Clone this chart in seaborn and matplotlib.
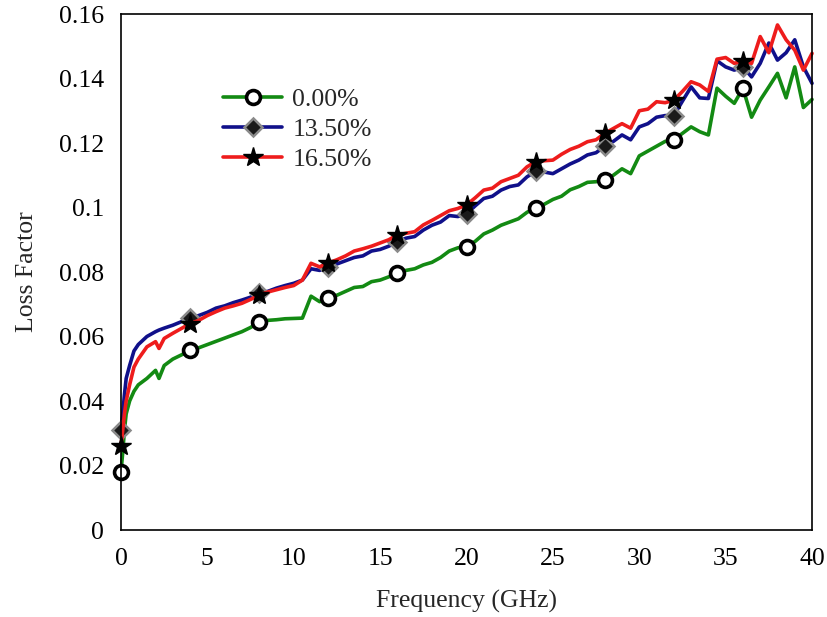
import matplotlib
matplotlib.use("Agg")
import matplotlib.pyplot as plt
import seaborn as sns
import pandas as pd

freq = [0, 0.1, 0.2, 0.3, 0.5, 0.75, 1.0, 1.5, 2.0, 2.2, 2.5, 3.0, 3.5,
        4.0, 4.5, 5.0, 5.5, 6.0, 6.5, 7.0, 7.5, 8.0, 8.5, 9.0, 9.5, 10.0, 10.5,
        11.0, 11.5, 12.0, 12.5, 13.0, 13.5, 14.0, 14.5, 15.0, 15.5, 16.0, 16.5,
        17.0, 17.5, 18.0, 18.5, 19.0, 19.5, 20.0, 20.5, 21.0, 21.5, 22.0, 22.5,
        23.0, 23.5, 24.0, 24.5, 25.0, 25.5, 26.0, 26.5, 27.0, 27.5, 28.0, 28.5,
        29.0, 29.5, 30.0, 30.5, 31.0, 31.5, 32.0, 32.5, 33.0, 33.5, 34.0, 34.5,
        35.0, 35.5, 36.0, 36.5, 37.0, 37.5, 38.0, 38.5, 39.0, 39.5, 40.0]

loss_0 = [0.018, 0.024, 0.031, 0.036, 0.040, 0.043, 0.045, 0.047, 0.0495, 0.047, 0.051, 0.053, 0.0543,
          0.0558, 0.0565, 0.0575, 0.0585, 0.0595, 0.0605, 0.0615, 0.0628, 0.0645, 0.065, 0.0652, 0.0655, 0.0656, 0.0657,
          0.0725, 0.0708, 0.072, 0.0728, 0.074, 0.0752, 0.0755, 0.077, 0.0775, 0.0785, 0.0798, 0.0805,
          0.081, 0.0822, 0.083, 0.0845, 0.0865, 0.0875, 0.0878, 0.0895, 0.0918, 0.093, 0.0945, 0.0955,
          0.0965, 0.0985, 0.100, 0.101, 0.1025, 0.1035, 0.1055, 0.1065, 0.1078, 0.108, 0.1085, 0.110,
          0.112, 0.1105, 0.116, 0.1175, 0.119, 0.1205, 0.121, 0.123, 0.125, 0.1235, 0.1225, 0.137,
          0.1345, 0.1323, 0.137, 0.128, 0.1333, 0.1374, 0.1416, 0.134, 0.1436, 0.131, 0.1335]

loss_135 = [0.031, 0.036, 0.042, 0.047, 0.051, 0.0555, 0.0575, 0.060, 0.0615, 0.062, 0.0626, 0.0635, 0.0646,
            0.0656, 0.0665, 0.0675, 0.0688, 0.0695, 0.0705, 0.0713, 0.0722, 0.0735, 0.074, 0.075, 0.0758, 0.0765, 0.0775,
            0.081, 0.0805, 0.0816, 0.0825, 0.0835, 0.0845, 0.085, 0.0865, 0.087, 0.088, 0.0894, 0.0905,
            0.091, 0.093, 0.0945, 0.0955, 0.0975, 0.0972, 0.098, 0.1005, 0.1028, 0.1035, 0.1054, 0.1065,
            0.107, 0.1095, 0.1112, 0.111, 0.1105, 0.112, 0.1135, 0.1147, 0.1163, 0.117, 0.119, 0.1205,
            0.1225, 0.121, 0.125, 0.126, 0.128, 0.1285, 0.1285, 0.133, 0.1374, 0.134, 0.1338, 0.1455,
            0.1436, 0.1426, 0.1436, 0.1405, 0.1447, 0.151, 0.1457, 0.148, 0.152, 0.1436, 0.1385]

loss_165 = [0.026, 0.031, 0.036, 0.040, 0.045, 0.0505, 0.053, 0.0568, 0.0584, 0.0563, 0.0594, 0.061, 0.0625,
            0.064, 0.065, 0.0665, 0.0677, 0.0688, 0.0695, 0.0703, 0.0715, 0.0728, 0.0738, 0.0745, 0.0752, 0.0758, 0.0775,
            0.0827, 0.0816, 0.0828, 0.0838, 0.085, 0.0865, 0.0872, 0.088, 0.089, 0.090, 0.0915, 0.092,
            0.0925, 0.0946, 0.096, 0.0975, 0.099, 0.0997, 0.1008, 0.103, 0.1054, 0.106, 0.108, 0.109,
            0.110, 0.1126, 0.1142, 0.1145, 0.1147, 0.1165, 0.118, 0.119, 0.1204, 0.121, 0.123, 0.1245,
            0.126, 0.1246, 0.130, 0.1305, 0.1328, 0.1325, 0.1333, 0.136, 0.139, 0.138, 0.136, 0.146,
            0.1465, 0.1447, 0.1455, 0.1447, 0.153, 0.148, 0.1566, 0.152, 0.1488, 0.1426, 0.1478]

labels = ["0.00%", "13.50%", "16.50%"]
marker_freqs = [0, 4, 8, 12, 16, 20, 24, 28, 32, 36]
x_ticks = [0, 5, 10, 15, 20, 25, 30, 35, 40]
y_ticks = [0, 0.02, 0.04, 0.06, 0.08, 0.1, 0.12, 0.14, 0.16]
y_ticklabels = ["0", "0.02", "0.04", "0.06", "0.08", "0.1", "0.12", "0.14", "0.16"]

sns.set_style("white")
plt.rcParams["font.family"] = ["Liberation Serif", "DejaVu Serif"]

df = pd.DataFrame({"freq": freq, labels[0]: loss_0, labels[1]: loss_135, labels[2]: loss_165})
mark_idx = [freq.index(f) for f in marker_freqs]

fig = plt.figure(figsize=(8.27, 6.17), dpi=100)
ax = fig.add_axes([0.1463, 0.141, 0.9819 - 0.1463, 0.9773 - 0.141])

styles = [
    dict(color="#138a13", marker="o", markerfacecolor="white", markeredgecolor="black",
         markeredgewidth=2.6, markersize=10),
    dict(color="#10108a", marker="D", markerfacecolor="#1a1a1a", markeredgecolor="#8a8a8a",
         markeredgewidth=1.8, markersize=9.5),
    dict(color="#ee1c1c", marker="*", markerfacecolor="black", markeredgecolor="black",
         markeredgewidth=1, markersize=15),
]

for lab, st in zip(labels, styles):
    sns.lineplot(data=df, x="freq", y=lab, ax=ax, label=lab, linewidth=2.6,
                 markevery=mark_idx, clip_on=False, **st)

ax.set_xlim(0, 40)
ax.set_ylim(0, 0.16)
ax.set_xticks(x_ticks)
ax.set_xticklabels([str(t) for t in x_ticks])
ax.set_yticks(y_ticks)
ax.set_yticklabels(y_ticklabels)
ax.tick_params(axis="both", direction="in", length=12, width=1.1, labelsize=18.5,
               top=False, right=False, colors="black")
ax.tick_params(axis="x", pad=13)
ax.tick_params(axis="y", pad=12)
for sp in ax.spines.values():
    sp.set_color("black")
    sp.set_linewidth(1.2)

ax.set_xlabel("Frequency (GHz)", fontsize=18.5, labelpad=14)
ax.set_ylabel("Loss Factor", fontsize=18.5, labelpad=15)

leg = ax.legend(loc="upper left", bbox_to_anchor=(223 / 827, 1 - 88 / 617),
                bbox_transform=fig.transFigure, frameon=False, fontsize=18.5,
                borderpad=0, borderaxespad=0,
                handlelength=2.3, handletextpad=0.4, labelspacing=0.28)

fig.savefig("out.png", dpi=100)
